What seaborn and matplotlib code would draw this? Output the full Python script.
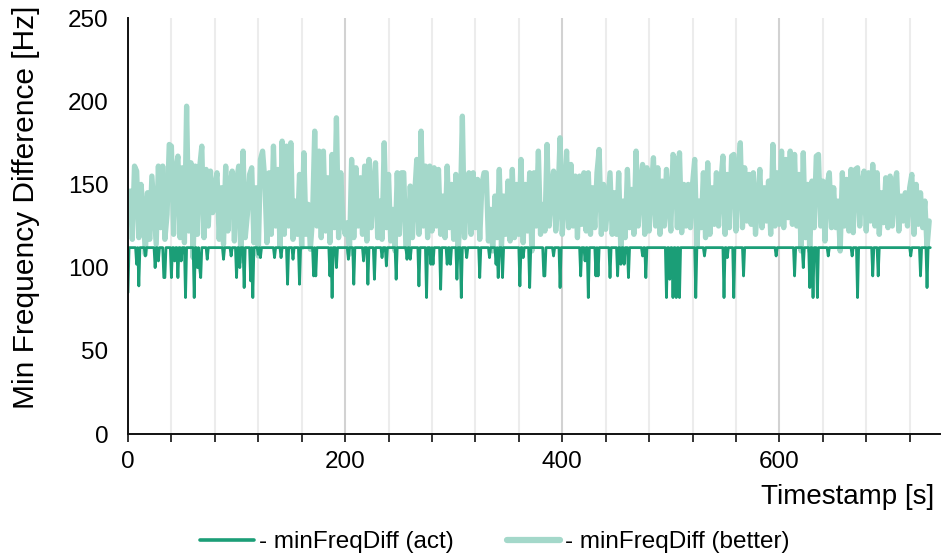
import numpy as np
import pandas as pd
import matplotlib
matplotlib.use("Agg")
import matplotlib.pyplot as plt
from matplotlib.lines import Line2D
import seaborn as sns

# ---- data -------------------------------------------------------------
# "better" frequency difference, sampled every 2 s (t = 0, 2, ..., 738)
better_values = [
    128, 146, 117, 161, 158, 118, 150, 135, 108, 145, 117, 155, 134, 114, 161, 124, 161, 117, 132, 174,
    173, 120, 158, 167, 118, 160, 115, 197, 122, 163, 106, 161, 120, 160, 173, 118, 159, 125, 158, 133,
    148, 157, 117, 148, 114, 161, 122, 150, 158, 116, 152, 161, 104, 170, 118, 132, 156, 160, 115, 148,
    107, 165, 170, 153, 115, 157, 120, 173, 125, 159, 113, 176, 120, 173, 125, 175, 117, 140, 120, 156,
    112, 169, 120, 138, 111, 130, 182, 125, 170, 118, 170, 122, 154, 115, 168, 124, 190, 118, 157, 128,
    120, 127, 108, 165, 118, 160, 125, 154, 120, 161, 116, 165, 124, 150, 163, 118, 140, 117, 175, 124,
    156, 116, 135, 110, 157, 120, 157, 157, 112, 110, 149, 118, 143, 165, 120, 182, 125, 161, 118, 161,
    122, 160, 125, 159, 120, 143, 118, 161, 124, 150, 117, 156, 108, 132, 191, 118, 143, 157, 120, 157,
    124, 153, 117, 150, 157, 157, 116, 135, 110, 143, 118, 159, 112, 143, 120, 152, 116, 159, 118, 150,
    120, 165, 115, 150, 122, 157, 110, 157, 125, 170, 120, 138, 122, 174, 125, 148, 158, 122, 140, 178,
    120, 140, 170, 124, 162, 125, 155, 118, 155, 126, 157, 122, 157, 120, 148, 124, 157, 171, 120, 150,
    123, 140, 157, 120, 145, 120, 157, 109, 140, 118, 159, 124, 147, 120, 170, 125, 150, 162, 120, 160,
    122, 147, 166, 125, 160, 120, 152, 125, 159, 140, 122, 168, 165, 124, 169, 121, 150, 125, 150, 124,
    150, 165, 113, 140, 124, 157, 118, 163, 120, 148, 126, 157, 125, 150, 167, 120, 156, 124, 167, 168,
    122, 157, 175, 124, 160, 128, 156, 126, 157, 120, 138, 159, 124, 148, 128, 152, 120, 174, 125, 157,
    126, 170, 124, 165, 130, 170, 126, 168, 125, 156, 110, 169, 118, 150, 110, 152, 124, 167, 168, 125,
    152, 116, 150, 157, 124, 148, 124, 140, 110, 157, 125, 153, 122, 159, 121, 159, 160, 125, 150, 158,
    122, 157, 128, 162, 125, 157, 120, 145, 127, 154, 124, 155, 125, 150, 157, 122, 143, 128, 145, 125,
    148, 156, 120, 150, 126, 145, 124, 140, 112, 128,
]
better_step = 2

# "act" frequency difference, sampled every second: it holds at the
# baseline value except for the listed drops
act_length = 740
act_baseline = 112
act_dip_time = [
    0, 8, 10, 16, 25, 28, 33, 34, 40, 43, 46, 49, 53, 61, 64, 66, 67, 73, 88, 95,
    100, 103, 107, 113, 115, 120, 122, 135, 141, 147, 152, 158, 171, 173, 186, 188, 192, 203, 208, 217,
    221, 227, 234, 238, 247, 257, 260, 268, 275, 279, 281, 288, 294, 297, 303, 307, 312, 324, 333, 339,
    341, 345, 361, 364, 370, 383, 384, 392, 398, 417, 421, 424, 431, 433, 444, 451, 454, 457, 461, 474,
    477, 496, 499, 502, 505, 508, 523, 531, 549, 552, 558, 567, 597, 614, 622, 628, 631, 635, 645, 667,
    672, 686, 691, 721, 730, 736,
]
act_dip_value = [
    85, 102, 89, 107, 100, 104, 94, 94, 94, 104, 94, 104, 82, 82, 100, 100, 94, 105, 105, 107,
    94, 100, 88, 92, 82, 108, 106, 106, 106, 90, 105, 90, 95, 95, 95, 82, 100, 105, 90, 104,
    90, 93, 106, 101, 93, 105, 105, 89, 82, 102, 102, 87, 102, 102, 93, 82, 106, 94, 106, 102,
    94, 94, 89, 106, 88, 95, 95, 107, 88, 95, 104, 82, 95, 95, 94, 95, 102, 102, 94, 107,
    94, 82, 93, 82, 82, 82, 82, 107, 82, 106, 82, 95, 107, 95, 100, 88, 82, 82, 107, 107,
    82, 95, 95, 107, 95, 88,
]

series_labels = ["- minFreqDiff (act)", "- minFreqDiff (better)"]
x_major_ticks = [0, 200, 400, 600]
y_ticks = [0, 50, 100, 150, 200, 250]

# ---- frames -----------------------------------------------------------
better_df = pd.DataFrame({
    "t": np.arange(len(better_values)) * better_step,
    "v": better_values,
})
act_v = np.full(act_length, float(act_baseline))
act_v[act_dip_time] = act_dip_value
act_df = pd.DataFrame({"t": np.arange(act_length), "v": act_v})

# ---- style ------------------------------------------------------------
sns.set_theme(style="white")
plt.rcParams["font.family"] = ["Liberation Sans", "DejaVu Sans"]
plt.rcParams["text.color"] = "black"
plt.rcParams["axes.labelcolor"] = "black"
plt.rcParams["xtick.color"] = "black"
plt.rcParams["ytick.color"] = "black"

act_color = "#1b9e77"
better_color = "#a4d8ca"

fig = plt.figure(figsize=(9.41, 5.54), dpi=100)
ax = fig.add_axes([0.136, 0.2166, 0.863, 0.7509])

sns.lineplot(data=better_df, x="t", y="v", ax=ax, color=better_color,
             linewidth=3.8, estimator=None, zorder=3)
sns.lineplot(data=act_df, x="t", y="v", ax=ax, color=act_color,
             linewidth=2.0, estimator=None, zorder=4)

ax.set_xlim(0, 748)
ax.set_ylim(0, 250)
ax.set_xticks(x_major_ticks)
ax.set_xticks(np.arange(40, 741, 40), minor=True)
ax.set_xticklabels([str(v) for v in x_major_ticks])
ax.set_yticks(y_ticks)
ax.set_yticklabels([str(v) for v in y_ticks])

ax.grid(False)
ax.grid(axis="x", which="major", color="#d2d2d2", linewidth=1.5, zorder=0)
ax.grid(axis="x", which="minor", color="#ececec", linewidth=1.5, zorder=0)
ax.set_axisbelow(True)

for side in ("top", "right"):
    ax.spines[side].set_visible(False)
for side in ("left", "bottom"):
    ax.spines[side].set_color("#111111")
    ax.spines[side].set_linewidth(1.4)
    ax.spines[side].set_zorder(5)

ax.tick_params(axis="x", which="both", direction="out", length=6, width=1.2,
               color="#111111", bottom=True, labelsize=17.5, pad=6)
ax.tick_params(axis="y", which="both", length=0, labelsize=17.5, pad=14)

ax.set_xlabel("Timestamp [s]", fontsize=20, loc="right", labelpad=8)
ax.xaxis.label.set_x(0.993)
ax.set_ylabel("Min Frequency Difference [Hz]", fontsize=21.5, labelpad=20)
ax.yaxis.label.set_y(0.545)

handles = [
    Line2D([], [], color=act_color, linewidth=2.6),
    Line2D([], [], color=better_color, linewidth=4.5),
]
fig.legend(handles, series_labels, loc="lower center", bbox_to_anchor=(0.526, -0.038),
           ncol=2, frameon=False, fontsize=17.5, handlelength=2.2,
           handletextpad=0.2, columnspacing=2.2)

fig.savefig("out.png", dpi=100)
